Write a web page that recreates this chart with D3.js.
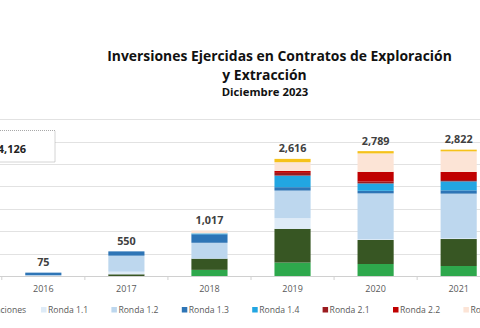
<!DOCTYPE html>
<html>
<head>
<meta charset="utf-8">
<script src="https://cdn.jsdelivr.net/npm/d3@7"></script>
<style>
	html, body { margin: 0; padding: 0; background: #fff; overflow: hidden; }
</style>
</head>
<body>
<div id="chart"></div>
<script>
var width = 480;
var height = 328;

// años y series (millones de dólares)
var years = ["2016", "2017", "2018", "2019", "2020", "2021"];
var seriesNames = ["Asociaciones", "Migraciones", "Ronda 1.1", "Ronda 1.2", "Ronda 1.3",
	"Ronda 1.4", "Ronda 2.1", "Ronda 2.2", "Ronda 2.3", "Ronda 2.4"];
var asociaciones = [0, 0, 137, 300, 268, 223];
var migraciones = [0, 38, 250, 753, 536, 603];
var ronda11 = [0, 58, 0, 239, 15, 15];
var ronda12 = [20, 358, 355, 616, 1026, 998];
var ronda13 = [55, 96, 190, 76, 58, 74];
var ronda14 = [0, 0, 20, 259, 165, 201];
var ronda21 = [0, 0, 0, 60, 40, 30];
var ronda22 = [0, 0, 0, 45, 219, 180];
var ronda23 = [0, 0, 65, 194, 411, 460];
var ronda24 = [0, 0, 0, 74, 51, 38];
var yTicks = [500, 1000, 1500, 2000, 2500, 3000, 3500];
var totalAcumulado = "4,126";

var colors = ["#2ea84c", "#375623", "#deebf7", "#bdd7ee", "#2e75b6",
	"#22a6e2", "#9b1b1f", "#c00000", "#fce4d6", "#f5c21b"];

var fontFamily = "'Open Sans', 'Noto Sans', sans-serif";

function buildTable() {
	var cols = [asociaciones, migraciones, ronda11, ronda12, ronda13,
		ronda14, ronda21, ronda22, ronda23, ronda24];
	var rows = [];
	for (var i in years) {
		var row = { year: years[i] };
		for (var j in seriesNames) row[seriesNames[j]] = cols[j][i];
		rows.push(row);
	}
	return rows;
}

function drawChart(tag) {
	var table = buildTable();
	var stacked = d3.stack().keys(seriesNames)(table);

	var svg = d3
		.select(tag)
		.append("svg")
		.attr("width", width)
		.attr("height", height)
		.style("font-family", fontFamily);

	// escalas
	var x = d3.scaleBand().domain(years).range([2, 500]).paddingInner(0.565).paddingOuter(0.28);
	var y = d3.scaleLinear().domain([0, 3500]).range([276, 119.3]);
	var color = d3.scaleOrdinal(seriesNames, colors);

	// títulos
	var titles = [
		{ t: "Inversiones Ejercidas en Contratos de Exploración", x: 279.5, y: 61, s: 13.9 },
		{ t: "y Extracción", x: 264.5, y: 80, s: 13.9 },
		{ t: "Diciembre 2023", x: 265, y: 96, s: 11.3 }
	];
	svg.selectAll(".title")
		.data(titles)
		.join("text")
		.attr("class", "title")
		.attr("x", (d) => d.x)
		.attr("y", (d) => d.y)
		.attr("text-anchor", "middle")
		.attr("font-weight", "bold")
		.attr("font-size", (d) => d.s + "px")
		.attr("fill", "#111")
		.text((d) => d.t);

	// líneas de cuadrícula
	svg.append("g")
		.selectAll("line")
		.data(yTicks)
		.join("line")
		.attr("x1", 0)
		.attr("x2", width)
		.attr("y1", (d) => Math.round(y(d)) + 0.5)
		.attr("y2", (d) => Math.round(y(d)) + 0.5)
		.attr("stroke", "#e2e2e2")
		.attr("stroke-width", 1);

	// eje x
	var xAxis = d3.axisBottom(x).tickSize(0).tickPadding(10);
	var gx = svg.append("g")
		.attr("transform", "translate(0," + y(0) + ")")
		.call(xAxis);
	gx.select(".domain").attr("stroke", "#d0d0d0").attr("d", "M0,0.5H" + width);
	gx.selectAll("text")
		.attr("font-family", fontFamily)
		.attr("font-size", "9px")
		.attr("fill", "#595959");
	// marcas entre categorías
	var step = x.step();
	var bounds = years.map((d) => x(d) + x.bandwidth() / 2 - step / 2);
	gx.append("g")
		.selectAll("line")
		.data(bounds)
		.join("line")
		.attr("x1", (d) => d)
		.attr("x2", (d) => d)
		.attr("y1", 0)
		.attr("y2", 4)
		.attr("stroke", "#d0d0d0");

	// barras apiladas
	svg.append("g")
		.selectAll("g")
		.data(stacked)
		.join("g")
		.attr("fill", (d) => color(d.key))
		.selectAll("rect")
		.data((d) => d)
		.join("rect")
		.attr("x", (d) => x(d.data.year))
		.attr("y", (d) => y(d[1]))
		.attr("width", x.bandwidth())
		.attr("height", (d) => y(d[0]) - y(d[1]));

	// totales
	var totals = table.map(function(r) {
		return { year: r.year, value: d3.sum(seriesNames, (k) => r[k]) };
	});
	svg.append("g")
		.selectAll("text")
		.data(totals)
		.join("text")
		.attr("x", (d) => x(d.year) + x.bandwidth() / 2)
		.attr("y", (d) => y(d.value) - 6.5)
		.attr("text-anchor", "middle")
		.attr("font-weight", "bold")
		.attr("font-size", "10.8px")
		.attr("fill", "#404040")
		.text((d) => d3.format(",")(d.value));

	// recuadro del acumulado
	svg.append("rect")
		.attr("x", -10)
		.attr("y", 130.5)
		.attr("width", 65)
		.attr("height", 31.5)
		.attr("fill", "#fff")
		.attr("stroke", "#a8a8a8")
		.attr("stroke-dasharray", "1,1");
	svg.append("text")
		.attr("x", 26)
		.attr("y", 152.5)
		.attr("text-anchor", "end")
		.attr("font-weight", "bold")
		.attr("font-size", "11px")
		.attr("fill", "#222")
		.text(totalAcumulado);

	// leyenda
	var legend = svg.append("g")
		.selectAll("g")
		.data(seriesNames)
		.join("g")
		.attr("transform", (d, i) => "translate(" + (41 + (i - 2) * 70.4) + ",307)");
	legend.append("rect")
		.attr("width", 5.5)
		.attr("height", 5.5)
		.attr("fill", (d) => color(d));
	legend.append("text")
		.attr("x", 7)
		.attr("y", 6.3)
		.attr("font-size", "8.6px")
		.attr("fill", "#595959")
		.text((d) => d);
}

drawChart("#chart");
</script>
</body>
</html>
